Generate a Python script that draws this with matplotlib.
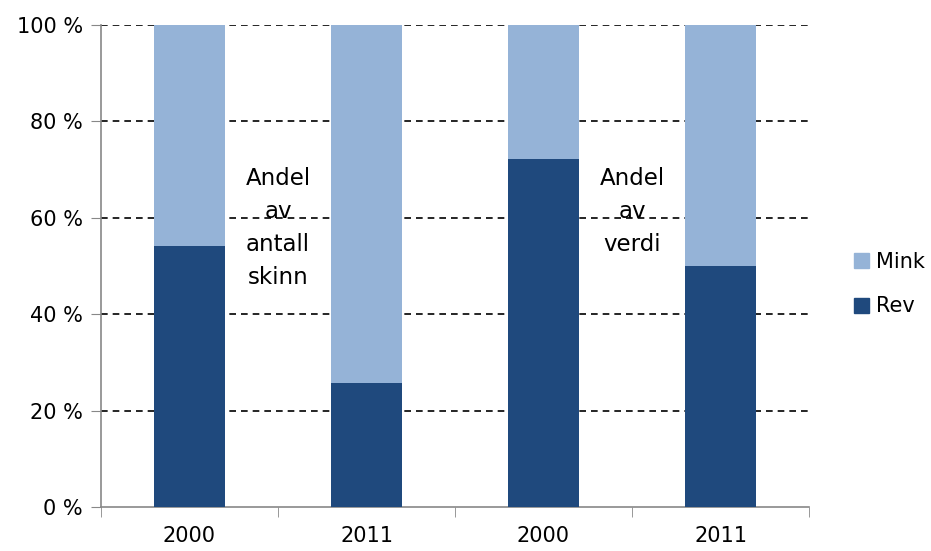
import matplotlib
matplotlib.use('Agg')
import matplotlib.pyplot as plt
from matplotlib.patches import Patch

categories = ["2000", "2011", "2000", "2011"]
rev = [54.2, 25.7, 72.2, 50.0]
mink = [100 - r for r in rev]
y_ticks = [0, 20, 40, 60, 80, 100]
y_labels = ["0 %", "20 %", "40 %", "60 %", "80 %", "100 %"]

rev_color = "#1f497d"
mink_color = "#95b3d7"

plt.rcParams['font.family'] = ['DejaVu Sans']
fig = plt.figure(figsize=(9.31, 5.51), dpi=100)
ax = fig.add_axes([101/931, 44/551, 708/931, 482/551])

x = list(range(len(categories)))
ax.bar(x, rev, width=0.4, color=rev_color, zorder=3)
ax.bar(x, mink, width=0.4, bottom=rev, color=mink_color, zorder=3)

ax.set_xlim(-0.5, 3.5)
ax.set_ylim(0, 100)
ax.set_yticks(y_ticks)
ax.set_yticklabels(y_labels, fontsize=15)
ax.set_xticks(x)
ax.set_xticklabels(categories, fontsize=15)
ax.set_xticks([-0.5, 0.5, 1.5, 2.5, 3.5], minor=True)
ax.tick_params(axis='x', which='major', length=0, pad=14)
ax.tick_params(axis='x', which='minor', length=7, color='#888888')
ax.tick_params(axis='y', length=7, color='#888888', pad=6)

for v in y_ticks[1:]:
    ax.axhline(v, color='black', linestyle=(0, (4, 3)), linewidth=1.2, zorder=2)

for s in ['top', 'right']:
    ax.spines[s].set_visible(False)
ax.spines['left'].set_color('#888888')
ax.spines['bottom'].set_color('#888888')
ax.spines['left'].set_linewidth(1.2)
ax.spines['bottom'].set_linewidth(1.2)

ax.text(0.5, 70.5, "Andel\nav\nantall\nskinn", ha='center', va='top', fontsize=16.5, linespacing=1.55, zorder=4)
ax.text(2.5, 70.5, "Andel\nav\nverdi", ha='center', va='top', fontsize=16.5, linespacing=1.55, zorder=4)

handles = [Patch(color=mink_color, label="Mink"), Patch(color=rev_color, label="Rev")]
fig.legend(handles=handles, loc='center left', bbox_to_anchor=(835/931, 1 - 284/551),
           frameon=False, fontsize=15, handlelength=0.75, handleheight=0.75,
           handletextpad=0.3, labelspacing=1.2)

fig.savefig("out.png", dpi=100)
